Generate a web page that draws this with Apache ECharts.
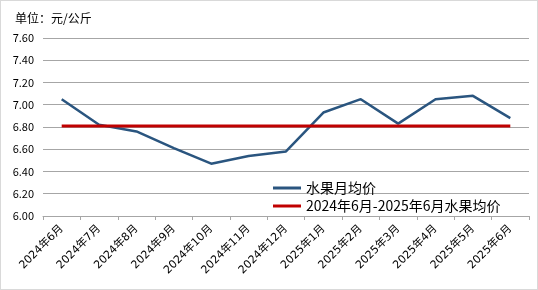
<!DOCTYPE html>
<html><head><meta charset="utf-8">
<script src="https://cdn.jsdelivr.net/npm/echarts@6/dist/echarts.min.js"></script>
<style>html,body{margin:0;padding:0;background:#fff}#c{width:538px;height:290px;box-sizing:border-box;border:1px solid #d9d9d9}</style>
</head><body><div id="c"></div>
<script>
const categories=['2024年6月','2024年7月','2024年8月','2024年9月','2024年10月','2024年11月','2024年12月','2025年1月','2025年2月','2025年3月','2025年4月','2025年5月','2025年6月'];
const monthly=[7.05,6.82,6.76,6.61,6.47,6.54,6.58,6.93,7.05,6.83,7.05,7.08,6.88];
const average=[6.81,6.81,6.81,6.81,6.81,6.81,6.81,6.81,6.81,6.81,6.81,6.81,6.81];
const yTicks=['6.00','6.20','6.40','6.60','6.80','7.00','7.20','7.40','7.60'];
const font='"Noto Sans CJK SC", sans-serif';
const chart=echarts.init(document.getElementById('c'));
chart.setOption({
  animation:false,
  title:{text:'单位：元/公斤',left:9,top:6,textStyle:{fontSize:12,fontWeight:'normal',color:'#000',fontFamily:font}},
  legend:{orient:'vertical',left:267,top:175,itemWidth:28,itemHeight:3,itemGap:4,icon:'rect',
    textStyle:{fontSize:14,color:'#000',fontFamily:font},
    data:['水果月均价','2024年6月-2025年6月水果均价']},
  grid:{left:42,right:8,top:37,bottom:73,containLabel:false},
  xAxis:{type:'category',data:categories,boundaryGap:true,
    axisLine:{lineStyle:{color:'#a6a6a6'}},
    axisTick:{show:true,lineStyle:{color:'#a6a6a6'},length:4},
    axisLabel:{rotate:45,fontSize:11,color:'#000',fontFamily:'"DejaVu Sans", "Noto Sans CJK SC", sans-serif',interval:0,margin:11}},
  yAxis:{type:'value',min:6,max:7.6,interval:0.2,
    axisLabel:{fontSize:11,color:'#000',fontFamily:font,margin:9,formatter:v=>yTicks[Math.round((v-6)/0.2)]},
    axisLine:{show:false},axisTick:{show:false},
    splitLine:{lineStyle:{color:'#a6a6a6'}}},
  series:[
    {name:'水果月均价',type:'line',data:monthly,symbol:'none',lineStyle:{width:2.5,color:'#2a557f'},itemStyle:{color:'#2a557f'}},
    {name:'2024年6月-2025年6月水果均价',type:'line',data:average,symbol:'none',lineStyle:{width:3,color:'#c00000'},itemStyle:{color:'#c00000'}}
  ]
});
</script></body></html>
